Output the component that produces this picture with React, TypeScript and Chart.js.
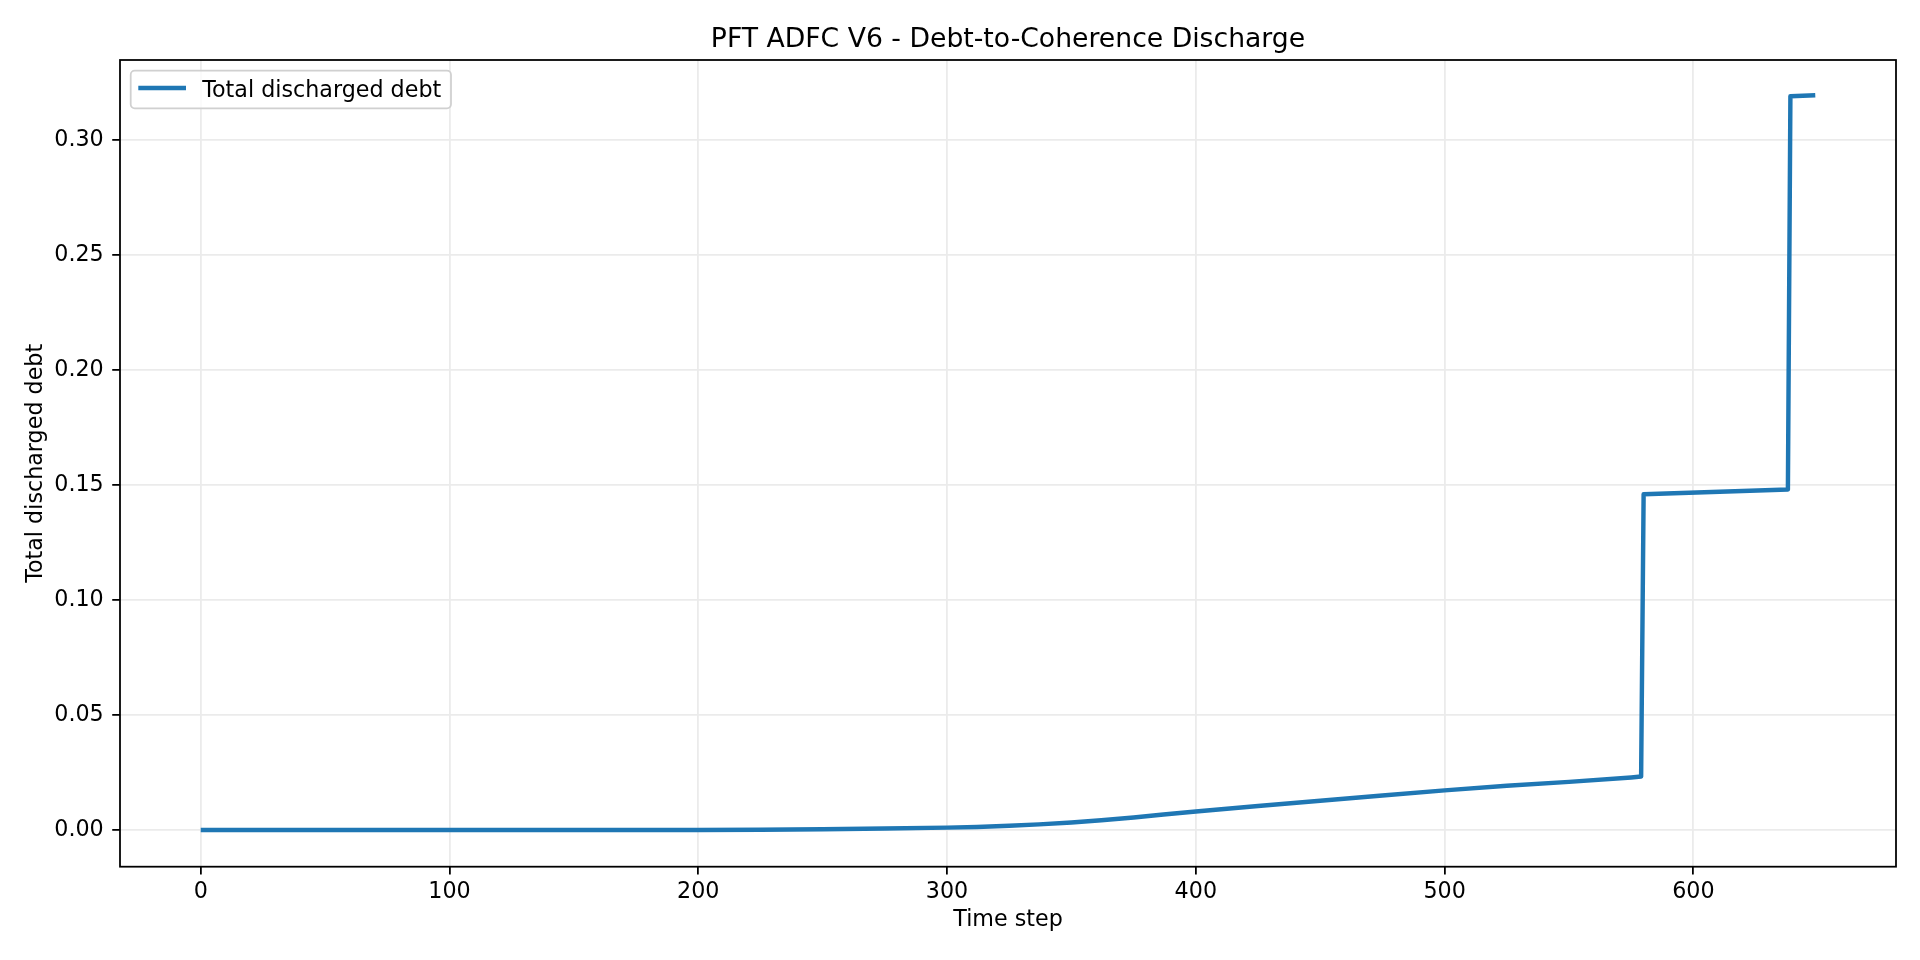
import React, { useEffect, useRef } from 'react';
import { Chart, registerables } from 'chart.js';

Chart.register(...registerables);

// Data (time step -> cumulative discharged debt)
const timeSteps = [0, 100, 200, 225, 250, 275, 300, 312, 325, 337, 350, 362, 375, 387, 400, 425, 450, 475, 500, 525, 550, 575, 579, 580, 638, 639, 649];
const dischargedDebt = [0, 0, 0, 0.0001, 0.0003, 0.0006, 0.001, 0.0013, 0.0018, 0.0024, 0.0032, 0.0042, 0.0054, 0.0067, 0.008, 0.0104, 0.0127, 0.015, 0.0172, 0.0192, 0.0209, 0.0228, 0.0232, 0.146, 0.148, 0.319, 0.3195];

const seriesLabel = 'Total discharged debt';
const chartTitle = 'PFT ADFC V6 - Debt-to-Coherence Discharge';
const xAxisLabel = 'Time step';
const yAxisLabel = 'Total discharged debt';

const FONT = '"DejaVu Sans", sans-serif';
const LINE_COLOR = '#1f77b4';
const PX = 2.222; // px per pt

// Title, in-axes legend and the full frame around the plot area
const decorPlugin = {
    id: 'decor',
    afterDatasetsDraw(chart: Chart) {
        const { ctx, chartArea } = chart;
        const { left, right, top, bottom } = chartArea;
        ctx.save();

        // frame
        ctx.strokeStyle = '#000000';
        ctx.lineWidth = 0.8 * PX;
        ctx.strokeRect(left, top, right - left, bottom - top);

        // title
        ctx.fillStyle = '#000000';
        ctx.font = `${12 * PX}px ${FONT}`;
        ctx.textAlign = 'center';
        ctx.textBaseline = 'alphabetic';
        ctx.fillText(chartTitle, (left + right) / 2, 46.7);

        // legend
        ctx.font = `${10 * PX}px ${FONT}`;
        const textW = ctx.measureText(seriesLabel).width;
        const bx = left + 10.7;
        const by = top + 10.7;
        const bw = 81.3 + textW;
        const bh = 37.6;
        ctx.beginPath();
        ctx.roundRect(bx, by, bw, bh, 4);
        ctx.fillStyle = 'rgba(255,255,255,0.8)';
        ctx.fill();
        ctx.strokeStyle = '#d0d0d0';
        ctx.lineWidth = 0.8 * PX;
        ctx.stroke();

        ctx.beginPath();
        ctx.moveTo(bx + 7.6, by + 17.3);
        ctx.lineTo(bx + 55.3, by + 17.3);
        ctx.strokeStyle = LINE_COLOR;
        ctx.lineWidth = 2 * PX;
        ctx.stroke();

        ctx.fillStyle = '#000000';
        ctx.textAlign = 'left';
        ctx.fillText(seriesLabel, bx + 71.5, by + 26);
        ctx.restore();
    },
};

export default function App() {
    const canvasRef = useRef<HTMLCanvasElement>(null);

    useEffect(() => {
        if (!canvasRef.current) return;
        const tickFont = { family: FONT, size: 10 * PX };

        const chart = new Chart(canvasRef.current, {
            type: 'line',
            data: {
                datasets: [{
                    label: seriesLabel,
                    data: timeSteps.map((t, i) => ({ x: t, y: dischargedDebt[i] })),
                    borderColor: LINE_COLOR,
                    borderWidth: 2 * PX,
                    pointRadius: 0,
                    tension: 0,
                    borderJoinStyle: 'round',
                    borderCapStyle: 'butt',
                    fill: false,
                }],
            },
            options: {
                animation: false,
                responsive: false,
                devicePixelRatio: 1,
                layout: { padding: { top: 60, right: 24, bottom: 0, left: 0 } },
                plugins: {
                    legend: { display: false },
                    title: { display: false },
                    tooltip: { enabled: false },
                },
                scales: {
                    x: {
                        type: 'linear',
                        min: -32.45,
                        max: 681.45,
                        afterFit: (scale: any) => { scale.height = 93.3; },
                        border: { display: false },
                        grid: {
                            color: '#ebebeb',
                            lineWidth: 0.8 * PX,
                            tickColor: '#000000',
                            tickWidth: 0.8 * PX,
                            tickLength: 3.5 * PX,
                        },
                        ticks: {
                            stepSize: 100,
                            includeBounds: false,
                            maxRotation: 0,
                            padding: 4.5,
                            color: '#000000',
                            font: tickFont,
                            callback: (v: any) => String(v),
                        },
                        title: {
                            display: true,
                            text: xAxisLabel,
                            color: '#000000',
                            font: tickFont,
                            padding: { top: 0, bottom: 26 },
                        },
                    },
                    y: {
                        type: 'linear',
                        min: -0.016,
                        max: 0.3348,
                        afterFit: (scale: any) => { scale.width = 120; },
                        border: { display: false },
                        grid: {
                            color: '#ebebeb',
                            lineWidth: 0.8 * PX,
                            tickColor: '#000000',
                            tickWidth: 0.8 * PX,
                            tickLength: 3.5 * PX,
                        },
                        ticks: {
                            stepSize: 0.05,
                            includeBounds: false,
                            padding: 8.5,
                            color: '#000000',
                            font: tickFont,
                            callback: (v: any) => Number(v).toFixed(2),
                        },
                        title: {
                            display: true,
                            text: yAxisLabel,
                            color: '#000000',
                            font: tickFont,
                            padding: { top: 23, bottom: 0 },
                        },
                    },
                },
            },
            plugins: [decorPlugin],
        });

        return () => chart.destroy();
    }, []);

    return (
        <div style={{ position: 'fixed', left: 0, top: 0, width: 1920, height: 960, background: '#ffffff' }}>
            <canvas ref={canvasRef} width={1920} height={960} />
        </div>
    );
}
